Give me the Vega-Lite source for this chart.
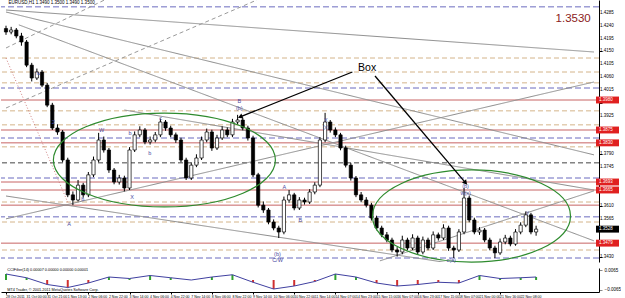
{
  "$schema": "https://vega.github.io/schema/vega-lite/v6.json",
  "padding": {"left": 0, "top": 0, "right": 0, "bottom": 0},
  "background": "white",
  "config": {"view": {"stroke": null}, "font": "Liberation Sans", "concat": {"spacing": 2}, "axis": {"labelOverlap": false, "labelBound": false}},
  "datasets": {
    "candles": [
      {"i":0,"o":1.4230,"h":1.4240,"l":1.4208,"c":1.4218},
      {"i":4,"o":1.4218,"h":1.4236,"l":1.4210,"c":1.4225},
      {"i":8,"o":1.4225,"h":1.4232,"l":1.4196,"c":1.4204},
      {"i":12,"o":1.4204,"h":1.4215,"l":1.4170,"c":1.4183},
      {"i":16,"o":1.4183,"h":1.4190,"l":1.4095,"c":1.4102},
      {"i":20,"o":1.4102,"h":1.4110,"l":1.4045,"c":1.4057},
      {"i":24,"o":1.4057,"h":1.4090,"l":1.4050,"c":1.4078},
      {"i":28,"o":1.4078,"h":1.4085,"l":1.4025,"c":1.4032},
      {"i":32,"o":1.4032,"h":1.4040,"l":1.3955,"c":1.3962},
      {"i":36,"o":1.3962,"h":1.3970,"l":1.3875,"c":1.3882},
      {"i":40,"o":1.3882,"h":1.3895,"l":1.3858,"c":1.3868},
      {"i":44,"o":1.3868,"h":1.3875,"l":1.3762,"c":1.3770},
      {"i":48,"o":1.3770,"h":1.3778,"l":1.3640,"c":1.3648},
      {"i":52,"o":1.3648,"h":1.3660,"l":1.3612,"c":1.3630},
      {"i":56,"o":1.3630,"h":1.3700,"l":1.3625,"c":1.3682},
      {"i":60,"o":1.3682,"h":1.3690,"l":1.3638,"c":1.3648},
      {"i":64,"o":1.3648,"h":1.3728,"l":1.3640,"c":1.3718},
      {"i":68,"o":1.3718,"h":1.3782,"l":1.3710,"c":1.3770},
      {"i":72,"o":1.3770,"h":1.3865,"l":1.3762,"c":1.3840},
      {"i":76,"o":1.3840,"h":1.3852,"l":1.3796,"c":1.3805},
      {"i":80,"o":1.3805,"h":1.3812,"l":1.3725,"c":1.3735},
      {"i":84,"o":1.3735,"h":1.3742,"l":1.3685,"c":1.3693},
      {"i":88,"o":1.3693,"h":1.3718,"l":1.3684,"c":1.3707},
      {"i":92,"o":1.3707,"h":1.3715,"l":1.3660,"c":1.3672},
      {"i":96,"o":1.3672,"h":1.3815,"l":1.3665,"c":1.3805},
      {"i":100,"o":1.3805,"h":1.3870,"l":1.3798,"c":1.3858},
      {"i":104,"o":1.3858,"h":1.3888,"l":1.3850,"c":1.3875},
      {"i":108,"o":1.3875,"h":1.3882,"l":1.3825,"c":1.3833},
      {"i":112,"o":1.3833,"h":1.3852,"l":1.3824,"c":1.3840},
      {"i":116,"o":1.3840,"h":1.3868,"l":1.3832,"c":1.3858},
      {"i":120,"o":1.3858,"h":1.3915,"l":1.3850,"c":1.3903},
      {"i":124,"o":1.3903,"h":1.3910,"l":1.3872,"c":1.3882},
      {"i":128,"o":1.3882,"h":1.3890,"l":1.3850,"c":1.3858},
      {"i":132,"o":1.3858,"h":1.3866,"l":1.3830,"c":1.3840},
      {"i":136,"o":1.3840,"h":1.3848,"l":1.3762,"c":1.3770},
      {"i":140,"o":1.3770,"h":1.3778,"l":1.3700,"c":1.3707},
      {"i":144,"o":1.3707,"h":1.3762,"l":1.3700,"c":1.3752},
      {"i":148,"o":1.3752,"h":1.3790,"l":1.3745,"c":1.3777},
      {"i":152,"o":1.3777,"h":1.3852,"l":1.3770,"c":1.3840},
      {"i":156,"o":1.3840,"h":1.3880,"l":1.3832,"c":1.3868},
      {"i":160,"o":1.3868,"h":1.3876,"l":1.3802,"c":1.3812},
      {"i":164,"o":1.3812,"h":1.3858,"l":1.3805,"c":1.3847},
      {"i":168,"o":1.3847,"h":1.3888,"l":1.3840,"c":1.3875},
      {"i":172,"o":1.3875,"h":1.3884,"l":1.3850,"c":1.3858},
      {"i":176,"o":1.3858,"h":1.3914,"l":1.3850,"c":1.3903},
      {"i":180,"o":1.3903,"h":1.3928,"l":1.3895,"c":1.3910},
      {"i":184,"o":1.3910,"h":1.3918,"l":1.3874,"c":1.3882},
      {"i":188,"o":1.3882,"h":1.3890,"l":1.3838,"c":1.3847},
      {"i":192,"o":1.3847,"h":1.3855,"l":1.3710,"c":1.3718},
      {"i":196,"o":1.3718,"h":1.3725,"l":1.3604,"c":1.3612},
      {"i":200,"o":1.3612,"h":1.3625,"l":1.3585,"c":1.3595},
      {"i":204,"o":1.3595,"h":1.3602,"l":1.3545,"c":1.3553},
      {"i":208,"o":1.3553,"h":1.3562,"l":1.3524,"c":1.3532},
      {"i":212,"o":1.3532,"h":1.3540,"l":1.3497,"c":1.3518},
      {"i":216,"o":1.3518,"h":1.3642,"l":1.3510,"c":1.3630},
      {"i":220,"o":1.3630,"h":1.3665,"l":1.3620,"c":1.3648},
      {"i":224,"o":1.3648,"h":1.3655,"l":1.3594,"c":1.3602},
      {"i":228,"o":1.3602,"h":1.3640,"l":1.3595,"c":1.3630},
      {"i":232,"o":1.3630,"h":1.3638,"l":1.3614,"c":1.3623},
      {"i":236,"o":1.3623,"h":1.3668,"l":1.3616,"c":1.3658},
      {"i":240,"o":1.3658,"h":1.3692,"l":1.3650,"c":1.3682},
      {"i":244,"o":1.3682,"h":1.3850,"l":1.3675,"c":1.3840},
      {"i":248,"o":1.3840,"h":1.3935,"l":1.3832,"c":1.3903},
      {"i":252,"o":1.3903,"h":1.3910,"l":1.3866,"c":1.3875},
      {"i":256,"o":1.3875,"h":1.3884,"l":1.3850,"c":1.3858},
      {"i":260,"o":1.3858,"h":1.3865,"l":1.3804,"c":1.3812},
      {"i":264,"o":1.3812,"h":1.3820,"l":1.3744,"c":1.3752},
      {"i":268,"o":1.3752,"h":1.3760,"l":1.3698,"c":1.3707},
      {"i":272,"o":1.3707,"h":1.3714,"l":1.3640,"c":1.3648},
      {"i":276,"o":1.3648,"h":1.3658,"l":1.3622,"c":1.3630},
      {"i":280,"o":1.3630,"h":1.3640,"l":1.3604,"c":1.3612},
      {"i":284,"o":1.3612,"h":1.3620,"l":1.3558,"c":1.3567},
      {"i":288,"o":1.3567,"h":1.3575,"l":1.3524,"c":1.3532},
      {"i":292,"o":1.3532,"h":1.3540,"l":1.3500,"c":1.3508},
      {"i":296,"o":1.3508,"h":1.3518,"l":1.3482,"c":1.3490},
      {"i":300,"o":1.3490,"h":1.3498,"l":1.3447,"c":1.3455},
      {"i":304,"o":1.3455,"h":1.3465,"l":1.3432,"c":1.3448},
      {"i":308,"o":1.3448,"h":1.3505,"l":1.3440,"c":1.3490},
      {"i":312,"o":1.3490,"h":1.3498,"l":1.3454,"c":1.3462},
      {"i":316,"o":1.3462,"h":1.3510,"l":1.3455,"c":1.3497},
      {"i":320,"o":1.3497,"h":1.3505,"l":1.3438,"c":1.3448},
      {"i":324,"o":1.3448,"h":1.3502,"l":1.3440,"c":1.3490},
      {"i":328,"o":1.3490,"h":1.3498,"l":1.3454,"c":1.3462},
      {"i":332,"o":1.3462,"h":1.3520,"l":1.3455,"c":1.3508},
      {"i":336,"o":1.3508,"h":1.3516,"l":1.3488,"c":1.3497},
      {"i":340,"o":1.3497,"h":1.3545,"l":1.3490,"c":1.3532},
      {"i":344,"o":1.3532,"h":1.3540,"l":1.3452,"c":1.3462},
      {"i":348,"o":1.3462,"h":1.3470,"l":1.3427,"c":1.3455},
      {"i":352,"o":1.3455,"h":1.3528,"l":1.3448,"c":1.3518},
      {"i":356,"o":1.3518,"h":1.3672,"l":1.3510,"c":1.3637},
      {"i":360,"o":1.3637,"h":1.3645,"l":1.3552,"c":1.3560},
      {"i":364,"o":1.3560,"h":1.3568,"l":1.3510,"c":1.3518},
      {"i":368,"o":1.3518,"h":1.3535,"l":1.3508,"c":1.3525},
      {"i":372,"o":1.3525,"h":1.3532,"l":1.3482,"c":1.3490},
      {"i":376,"o":1.3490,"h":1.3498,"l":1.3454,"c":1.3462},
      {"i":380,"o":1.3462,"h":1.3470,"l":1.3427,"c":1.3445},
      {"i":384,"o":1.3445,"h":1.3495,"l":1.3438,"c":1.3483},
      {"i":388,"o":1.3483,"h":1.3508,"l":1.3475,"c":1.3497},
      {"i":392,"o":1.3497,"h":1.3505,"l":1.3468,"c":1.3476},
      {"i":396,"o":1.3476,"h":1.3528,"l":1.3470,"c":1.3518},
      {"i":400,"o":1.3518,"h":1.3552,"l":1.3510,"c":1.3542},
      {"i":404,"o":1.3542,"h":1.3590,"l":1.3535,"c":1.3578},
      {"i":408,"o":1.3578,"h":1.3585,"l":1.3510,"c":1.3518},
      {"i":412,"o":1.3518,"h":1.3540,"l":1.3505,"c":1.3528}
    ],
    "hlines": [
      {"p":1.4306,"kind":"blue"},{"p":1.4022,"kind":"blue"},{"p":1.3847,"kind":"blue"},{"p":1.3707,"kind":"blue"},{"p":1.3571,"kind":"blue"},{"p":1.3427,"kind":"blue"},
      {"p":1.3980,"kind":"red"},{"p":1.3875,"kind":"red"},{"p":1.3830,"kind":"red"},{"p":1.3693,"kind":"red"},{"p":1.3665,"kind":"red"},{"p":1.3612,"kind":"red"},{"p":1.3479,"kind":"red"},
      {"p":1.4127,"kind":"tan"},{"p":1.4078,"kind":"tan"},{"p":1.4040,"kind":"tan"},{"p":1.3942,"kind":"tan"},{"p":1.3893,"kind":"tan"},{"p":1.3816,"kind":"tan"},{"p":1.3623,"kind":"tan"},{"p":1.3553,"kind":"tan"},{"p":1.3455,"kind":"tan"},
      {"p":1.3760,"kind":"black"}
    ],
    "tlines": [
      {"id":"L1","kind":"trend","i":0,"p":1.4295},{"id":"L1","kind":"trend","i":457,"p":1.4148},
      {"id":"L2","kind":"trend","i":0,"p":1.4288},{"id":"L2","kind":"trend","i":457,"p":1.3788},
      {"id":"L3","kind":"trend","i":10,"p":1.4243},{"id":"L3","kind":"trend","i":457,"p":1.3487},
      {"id":"L4","kind":"trenddash","i":0,"p":1.4162},{"id":"L4","kind":"trenddash","i":76.5,"p":1.4330},
      {"id":"L5","kind":"trenddash","i":0,"p":1.3952},{"id":"L5","kind":"trenddash","i":195,"p":1.4330},
      {"id":"L6","kind":"trend","i":0,"p":1.3564},{"id":"L6","kind":"trend","i":457,"p":1.4043},
      {"id":"L7","kind":"trend","i":92,"p":1.3945},{"id":"L7","kind":"trend","i":457,"p":1.3665},
      {"id":"L8","kind":"trend","i":0,"p":1.3644},{"id":"L8","kind":"trend","i":457,"p":1.3333},
      {"id":"L9","kind":"trend","i":290.6,"p":1.3417},{"id":"L9","kind":"trend","i":457,"p":1.3662},
      {"id":"L10","kind":"dotted","i":0,"p":1.4127},{"id":"L10","kind":"dotted","i":48.2,"p":1.3620}
    ],
    "yticks": [
      {"p":1.4285},{"p":1.4240},{"p":1.4195},{"p":1.4150},{"p":1.4105},{"p":1.4060},{"p":1.4015},
      {"p":1.3925},{"p":1.3790},{"p":1.3745},{"p":1.3610},{"p":1.3565},{"p":1.3430}
    ],
    "xticks": [
      {"i":0,"t":"28 Oct 2011"},{"i":16,"t":"31 Oct 00:00"},{"i":32,"t":"31 Oct 21:00"},{"i":48,"t":"1 Nov 13:00"},
      {"i":64,"t":"2 Nov 06:00"},{"i":80,"t":"2 Nov 22:00"},{"i":96,"t":"3 Nov 14:00"},{"i":112,"t":"4 Nov 06:00"},
      {"i":128,"t":"4 Nov 22:00"},{"i":144,"t":"7 Nov 14:00"},{"i":160,"t":"8 Nov 06:00"},{"i":176,"t":"8 Nov 22:00"},
      {"i":192,"t":"9 Nov 14:00"},{"i":208,"t":"10 Nov 06:00"},{"i":224,"t":"10 Nov 22:00"},{"i":240,"t":"11 Nov 14:00"},
      {"i":256,"t":"14 Nov 07:00"},{"i":272,"t":"14 Nov 23:00"},{"i":288,"t":"15 Nov 15:00"},{"i":304,"t":"16 Nov 07:00"},
      {"i":320,"t":"16 Nov 23:00"},{"i":336,"t":"17 Nov 15:00"},{"i":352,"t":"18 Nov 07:00"},{"i":368,"t":"21 Nov 00:00"},
      {"i":384,"t":"21 Nov 16:00"},{"i":400,"t":"22 Nov 08:00"}
    ],
    "tags": [
      {"p":1.3980,"t":"1.3980","kind":"red"},
      {"p":1.3875,"t":"1.3875","kind":"red"},
      {"p":1.3830,"t":"1.3830","kind":"red"},
      {"p":1.3693,"t":"1.3693","kind":"red"},
      {"p":1.3665,"t":"1.3665","kind":"red"},
      {"p":1.3479,"t":"1.3479","kind":"red"},
      {"p":1.3528,"t":"1.3528","kind":"cur"}
    ],
    "labels": [
      {"i":49,"p":1.3546,"t":"A"},
      {"i":181.3,"p":1.3977,"t":"B"},
      {"i":181.3,"p":1.3952,"t":"(b)"},
      {"i":248.6,"p":1.3910,"t":"X"},
      {"i":248.6,"p":1.3885,"t":"(x)"},
      {"i":211,"p":1.3440,"t":"(b)"},
      {"i":211,"p":1.3419,"t":"C/W"},
      {"i":216.4,"p":1.3676,"t":"A"},
      {"i":228.7,"p":1.3560,"t":"B"},
      {"i":74.2,"p":1.3875,"t":"W"},
      {"i":59.7,"p":1.3634,"t":"b"},
      {"i":97.9,"p":1.3641,"t":"X"},
      {"i":36.7,"p":1.3903,"t":"2"},
      {"i":25.2,"p":1.4075,"t":"iv"},
      {"i":96.4,"p":1.3865,"t":"b"},
      {"i":111.7,"p":1.3795,"t":"b"},
      {"i":120.1,"p":1.3917,"t":"c"},
      {"i":357.2,"p":1.3679,"t":"(b)"},
      {"i":357.2,"p":1.3655,"t":"w(x)"},
      {"i":405.4,"p":1.3588,"t":"y"},
      {"i":346,"p":1.3421,"t":"c(a)"}
    ],
    "ellipses": [
      {"name":"e1","i":123.1,"p":1.3770},
      {"name":"e2","i":361.8,"p":1.3574}
    ],
    "arrows": [
      {"name":"a1","i1":269.2,"p1":1.4078,"i2":182,"p2":1.3921},
      {"name":"a2","i1":286.8,"p1":1.4064,"i2":357.2,"p2":1.3690}
    ],
    "notes": [
      {"name":"box","i":280.7,"p":1.4092,"t":"Box"},
      {"name":"price","i":454.5,"p":1.4262,"t":"1.3530"},
      {"name":"legend","i":2,"p":1.4318,"t":"EURUSD,H1  1.3490 1.3500 1.3490 1.3500"}
    ],
    "ind": [
      {"i":0,"v":0.004},{"i":16,"v":0.0015},{"i":32,"v":-0.003},{"i":48,"v":-0.005},{"i":64,"v":-0.002},{"i":80,"v":0.002},
      {"i":96,"v":0.001},{"i":112,"v":0.003},{"i":128,"v":0.0015},{"i":144,"v":0.0},{"i":160,"v":0.002},{"i":176,"v":0.0035},
      {"i":192,"v":-0.0015},{"i":208,"v":-0.006},{"i":224,"v":-0.004},{"i":240,"v":-0.001},{"i":256,"v":0.004},{"i":272,"v":0.002},
      {"i":288,"v":-0.002},{"i":304,"v":-0.004},{"i":320,"v":-0.003},{"i":336,"v":-0.0015},{"i":352,"v":-0.002},{"i":368,"v":0.003},
      {"i":384,"v":0.001},{"i":400,"v":0.0015},{"i":412,"v":0.002}
    ],
    "indnotes": [
      {"i":1,"v":0.0068,"t":"CCIFilter(14) 0.00007 0.00000 0.00000 0.00001"},
      {"i":1,"v":-0.0068,"t":"MT4 Trader, © 2001-2011 MetaQuotes Software Corp."}
    ]
  },
  "vconcat": [
    {
      "width": 598,
      "height": 262,
      "layer": [
        {
          "data": {"name": "hlines"},
          "mark": {"type": "rule", "strokeWidth": 1},
          "encoding": {
            "y": {"field": "p", "type": "quantitative", "scale": {"domain": [1.3413, 1.433], "zero": false, "nice": false},
              "axis": {"orient": "right", "values": [1.3430,1.3475,1.3520,1.3565,1.3610,1.3655,1.3700,1.3745,1.3790,1.3835,1.3880,1.3925,1.3970,1.4015,1.4060,1.4105,1.4150,1.4195,1.4240,1.4285], "labels": false, "tickSize": 3, "domainColor": "#000", "tickColor": "#000", "grid": false, "title": null}},
            "color": {"field": "kind", "type": "nominal", "legend": null,
              "scale": {"domain": ["blue","red","tan","black","trend","trenddash","dotted"], "range": ["#6b6bbf","#c86464","#d4b48a","#444444","#8c8c8c","#9a9a9a","#d08080"]}},
            "strokeDash": {"field": "kind", "type": "nominal", "legend": null,
              "scale": {"domain": ["blue","red","tan","black","trend","trenddash","dotted"], "range": [[6,3],[1,0],[5,3],[5,3],[1,0],[4,3],[1,2]]}}
          }
        },
        {
          "data": {"name": "tlines"},
          "mark": {"type": "line", "strokeWidth": 1, "clip": true},
          "encoding": {
            "x": {"field": "i", "type": "quantitative", "scale": {"domain": [0, 457], "nice": false, "zero": false}, "axis": null},
            "y": {"field": "p", "type": "quantitative"},
            "detail": {"field": "id"},
            "color": {"field": "kind", "type": "nominal", "legend": null},
            "strokeDash": {"field": "kind", "type": "nominal", "legend": null}
          }
        },
        {
          "data": {"name": "candles"},
          "mark": {"type": "rule", "color": "#000", "strokeWidth": 1},
          "encoding": {
            "x": {"field": "i", "type": "quantitative"},
            "y": {"field": "l", "type": "quantitative"},
            "y2": {"field": "h"}
          }
        },
        {
          "data": {"name": "candles"},
          "mark": {"type": "bar", "width": 3.2, "stroke": "#000", "strokeWidth": 0.7},
          "encoding": {
            "x": {"field": "i", "type": "quantitative"},
            "y": {"field": "o", "type": "quantitative"},
            "y2": {"field": "c"},
            "fill": {"condition": {"test": "datum.c >= datum.o", "value": "#ffffff"}, "value": "#000000"}
          }
        },
        {
          "data": {"name": "ellipses"},
          "transform": [{"filter": "datum.name == 'e1'"}],
          "mark": {"type": "point", "shape": "M -1 0 A 1 0.423 0 1 1 1 0 A 1 0.423 0 1 1 -1 0 Z", "size": 49284, "filled": false, "stroke": "#2e8b2e", "strokeWidth": 1.2, "opacity": 1},
          "encoding": {"x": {"field": "i", "type": "quantitative"}, "y": {"field": "p", "type": "quantitative"}}
        },
        {
          "data": {"name": "ellipses"},
          "transform": [{"filter": "datum.name == 'e2'"}],
          "mark": {"type": "point", "shape": "M -1 0 A 1 0.465 0 1 1 1 0 A 1 0.465 0 1 1 -1 0 Z", "size": 39204, "filled": false, "stroke": "#2e8b2e", "strokeWidth": 1.2, "opacity": 1},
          "encoding": {"x": {"field": "i", "type": "quantitative"}, "y": {"field": "p", "type": "quantitative"}}
        },
        {
          "data": {"name": "arrows"},
          "mark": {"type": "rule", "color": "#000", "strokeWidth": 1.3},
          "encoding": {
            "x": {"field": "i1", "type": "quantitative"}, "y": {"field": "p1", "type": "quantitative"},
            "x2": {"field": "i2"}, "y2": {"field": "p2"}
          }
        },
        {
          "data": {"name": "arrows"},
          "transform": [{"filter": "datum.name == 'a1'"}],
          "mark": {"type": "point", "shape": "triangle-up", "filled": true, "color": "#000", "size": 30, "angle": 248.5, "opacity": 1},
          "encoding": {"x": {"field": "i2", "type": "quantitative"}, "y": {"field": "p2", "type": "quantitative"}}
        },
        {
          "data": {"name": "arrows"},
          "transform": [{"filter": "datum.name == 'a2'"}],
          "mark": {"type": "point", "shape": "triangle-up", "filled": true, "color": "#000", "size": 30, "angle": 139.3, "opacity": 1},
          "encoding": {"x": {"field": "i2", "type": "quantitative"}, "y": {"field": "p2", "type": "quantitative"}}
        },
        {
          "data": {"name": "labels"},
          "mark": {"type": "text", "fontSize": 5.5, "color": "#4a4aa0", "align": "center", "baseline": "middle"},
          "encoding": {"x": {"field": "i", "type": "quantitative"}, "y": {"field": "p", "type": "quantitative"}, "text": {"field": "t"}}
        },
        {
          "data": {"name": "yticks"},
          "mark": {"type": "text", "fontSize": 4.5, "color": "#000", "align": "left", "baseline": "middle", "dx": 6},
          "encoding": {
            "x": {"datum": 457, "type": "quantitative"},
            "y": {"field": "p", "type": "quantitative"},
            "text": {"field": "p", "format": ".4f"}
          }
        },
        {
          "data": {"name": "tags"},
          "mark": {"type": "point", "shape": "M 0 -0.15 L 1 -0.15 L 1 0.15 L 0 0.15 Z", "size": 2116, "filled": true, "opacity": 1, "xOffset": 2},
          "encoding": {
            "x": {"datum": 457, "type": "quantitative"},
            "y": {"field": "p", "type": "quantitative"},
            "color": {"condition": {"test": "datum.kind == 'cur'", "value": "#000000"}, "value": "#e02020"}
          }
        },
        {
          "data": {"name": "tags"},
          "mark": {"type": "text", "fontSize": 4.5, "color": "#ffffff", "align": "left", "baseline": "middle", "dx": 5},
          "encoding": {
            "x": {"datum": 457, "type": "quantitative"},
            "y": {"field": "p", "type": "quantitative"},
            "text": {"field": "t"}
          }
        },
        {
          "data": {"name": "notes"},
          "transform": [{"filter": "datum.name == 'box'"}],
          "mark": {"type": "text", "fontSize": 10.5, "color": "#000", "align": "center", "baseline": "middle"},
          "encoding": {"x": {"field": "i", "type": "quantitative"}, "y": {"field": "p", "type": "quantitative"}, "text": {"field": "t"}}
        },
        {
          "data": {"name": "notes"},
          "transform": [{"filter": "datum.name == 'price'"}],
          "mark": {"type": "text", "fontSize": 11.5, "color": "#8b2020", "align": "right", "baseline": "middle"},
          "encoding": {"x": {"field": "i", "type": "quantitative"}, "y": {"field": "p", "type": "quantitative"}, "text": {"field": "t"}}
        },
        {
          "data": {"name": "notes"},
          "transform": [{"filter": "datum.name == 'legend'"}],
          "mark": {"type": "text", "fontSize": 4.5, "color": "#000", "align": "left", "baseline": "middle"},
          "encoding": {"x": {"field": "i", "type": "quantitative"}, "y": {"field": "p", "type": "quantitative"}, "text": {"field": "t"}}
        }
      ]
    },
    {
      "width": 598,
      "height": 24,
      "layer": [
        {
          "data": {"name": "ind"},
          "mark": {"type": "bar", "width": 2},
          "encoding": {
            "x": {"field": "i", "type": "quantitative", "scale": {"domain": [0, 457], "nice": false, "zero": false},
              "axis": {"values": [0,16,32,48,64,80,96,112,128,144,160,176,192,208,224,240,256,272,288,304,320,336,352,368,384,400],
                "labels": false, "tickSize": 2, "domainColor": "#000", "tickColor": "#000", "title": null, "grid": false}},
            "y": {"field": "v", "type": "quantitative", "scale": {"domain": [-0.008, 0.008], "nice": false},
              "axis": {"orient": "right", "values": [0.0065, 0, -0.0065], "format": ".4f", "labelFontSize": 4.5, "tickSize": 3, "labelPadding": 2, "domainColor": "#000", "title": null, "grid": false}},
            "y2": {"datum": 0},
            "color": {"condition": {"test": "datum.v < 0", "value": "#d03030"}, "value": "#30a030"}
          }
        },
        {
          "data": {"name": "ind"},
          "mark": {"type": "line", "color": "#4040a0", "strokeWidth": 1},
          "encoding": {
            "x": {"field": "i", "type": "quantitative"},
            "y": {"field": "v", "type": "quantitative"}
          }
        },
        {
          "data": {"name": "xticks"},
          "mark": {"type": "text", "fontSize": 3.5, "color": "#000", "align": "left", "baseline": "top", "dy": 3},
          "encoding": {
            "x": {"field": "i", "type": "quantitative"},
            "y": {"datum": -0.008, "type": "quantitative"},
            "text": {"field": "t"}
          }
        },
        {
          "data": {"name": "indnotes"},
          "mark": {"type": "text", "fontSize": 3.8, "color": "#000", "align": "left", "baseline": "middle"},
          "encoding": {
            "x": {"field": "i", "type": "quantitative"},
            "y": {"field": "v", "type": "quantitative"},
            "text": {"field": "t"}
          }
        }
      ]
    }
  ]
}
